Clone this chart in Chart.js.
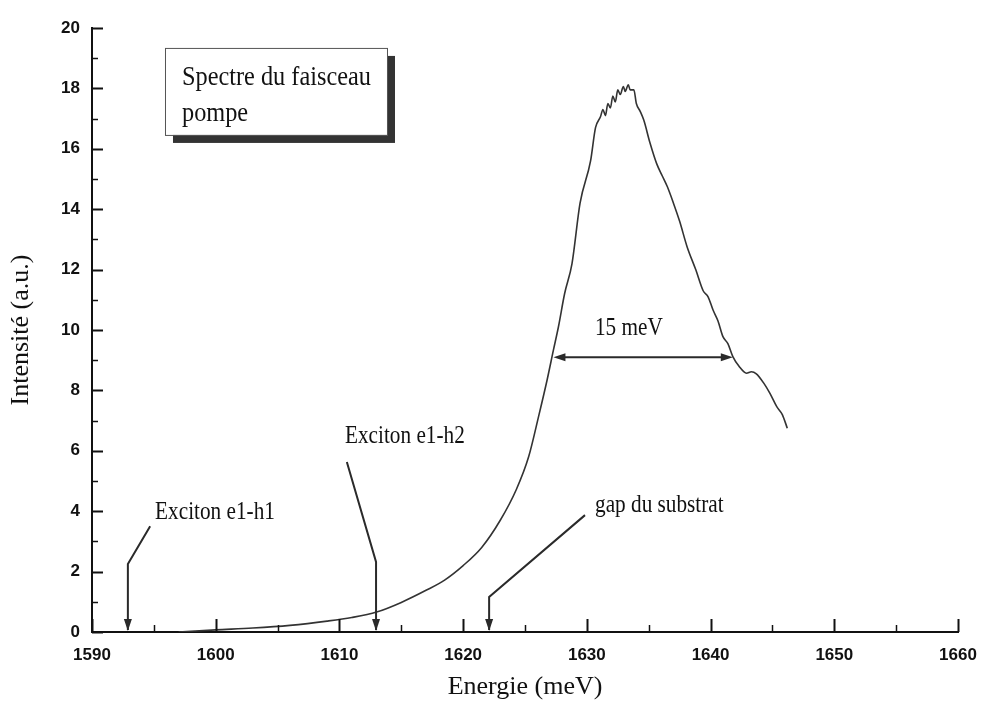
<!DOCTYPE html>
<html>
<head>
<meta charset="utf-8">
<script src="https://cdn.jsdelivr.net/npm/chart.js@4.4.1/dist/chart.umd.min.js"></script>
<style>
  html, body { margin: 0; padding: 0; background: #fff; }
  #wrap { width: 982px; height: 709px; }
</style>
</head>
<body>
<div id="wrap"><canvas id="spectre"></canvas></div>
<script>
// spectre du faisceau pompe
const energie = [1597, 1600, 1603, 1606, 1609, 1611, 1613, 1615, 1617, 1618.5, 1620, 1621.5, 1623, 1624.3, 1625.3, 1626.1, 1626.8, 1627.3, 1627.7, 1628.2, 1628.8, 1629.45, 1630.3, 1630.7, 1631.1, 1631.3, 1631.5, 1631.7, 1631.9, 1632.1, 1632.3, 1632.5, 1632.7, 1632.95, 1633.1, 1633.35, 1633.5, 1633.8, 1634.0, 1634.3, 1634.6, 1635.1, 1635.65, 1636.1, 1636.5, 1637.0, 1637.5, 1638.1, 1638.8, 1639.4, 1639.8, 1640.2, 1640.6, 1641.0, 1641.4, 1641.8, 1642.3, 1642.9, 1643.3, 1643.7, 1644.3, 1644.8, 1645.35, 1645.8, 1646.2];
const intensite = [0.0, 0.07, 0.13, 0.22, 0.36, 0.48, 0.66, 0.98, 1.38, 1.72, 2.2, 2.8, 3.7, 4.72, 5.81, 7.14, 8.37, 9.34, 10.1, 11.2, 12.2, 14.2, 15.6, 16.7, 17.06, 17.3, 17.1, 17.5, 17.35, 17.75, 17.55, 17.95, 17.8, 18.06, 17.9, 18.12, 17.95, 17.95, 17.5, 17.25, 16.95, 16.2, 15.5, 15.1, 14.75, 14.2, 13.6, 12.76, 12.0, 11.3, 11.1, 10.66, 10.3, 9.78, 9.55, 9.12, 8.8, 8.57, 8.62, 8.55, 8.24, 7.9, 7.46, 7.2, 6.75];
const ticksX = [1590, 1600, 1610, 1620, 1630, 1640, 1650, 1660];
const ticksY = [0, 2, 4, 6, 8, 10, 12, 14, 16, 18, 20];

// flèches et étiquettes (unités des axes)
const reperes = [
  { texte: 'Exciton e1-h1', e: 1592.9, coude: [1592.9, 2.25], bout: [1594.7, 3.5], lab: [1595.1, 3.97] },
  { texte: 'Exciton e1-h2', e: 1612.96, coude: [1612.96, 2.32], bout: [1610.6, 5.63], lab: [1610.45, 6.46] },
  { texte: 'gap du substrat', e: 1622.1, coude: [1622.1, 1.16], bout: [1629.85, 3.87], lab: [1630.66, 4.2] }
];
const largeur = { de: 1627.3, a: 1641.8, niveau: 9.1, texte: '15 meV', lab: [1633.4, 10.05] };
const titreBoite = ['Spectre du faisceau', 'pompe'];

const serif = '"Liberation Serif", "Times New Roman", serif';
const trait = '#2a2a2a';

function texteSerre(ctx, txt, x, y, taille, serre) {
  ctx.save();
  ctx.font = taille + 'px ' + serif;
  ctx.textBaseline = 'middle';
  ctx.textAlign = 'left';
  ctx.fillStyle = '#111';
  ctx.translate(x, y);
  ctx.scale(serre, 1);
  ctx.fillText(txt, 0, 0);
  ctx.restore();
}

function pointe(ctx, x, y, angle) {
  // petite pointe de flèche, sommet en (x, y)
  ctx.save();
  ctx.translate(x, y);
  ctx.rotate(angle);
  ctx.beginPath();
  ctx.moveTo(0, 0);
  ctx.lineTo(-12, -4);
  ctx.lineTo(-12, 4);
  ctx.closePath();
  ctx.fill();
  ctx.restore();
}

const decor = {
  id: 'decor',
  afterDraw(chart) {
    const ctx = chart.ctx;
    const sx = chart.scales.x, sy = chart.scales.y;
    const area = chart.chartArea;

    // graduations vers l'intérieur
    ctx.save();
    ctx.strokeStyle = '#111';
    for (let v = 1590; v <= 1660; v += 5) {
      const px = Math.round(sx.getPixelForValue(v)) + 0.5;
      const big = v % 10 === 0;
      ctx.lineWidth = big ? 2 : 1.5;
      ctx.beginPath();
      ctx.moveTo(px, area.bottom);
      ctx.lineTo(px, area.bottom - (big ? 13 : 7));
      ctx.stroke();
    }
    for (let v = 0; v <= 20; v += 1) {
      const py = Math.round(sy.getPixelForValue(v)) + 0.5;
      const big = v % 2 === 0;
      ctx.lineWidth = big ? 2 : 1.5;
      ctx.beginPath();
      ctx.moveTo(area.left, py);
      ctx.lineTo(area.left + (big ? 11 : 6), py);
      ctx.stroke();
    }
    ctx.restore();

    // flèches des repères
    ctx.save();
    ctx.strokeStyle = trait;
    ctx.fillStyle = trait;
    ctx.lineWidth = 2;
    reperes.forEach(r => {
      const x0 = sx.getPixelForValue(r.e);
      const y0 = sy.getPixelForValue(0);
      const xc = sx.getPixelForValue(r.coude[0]), yc = sy.getPixelForValue(r.coude[1]);
      const xb = sx.getPixelForValue(r.bout[0]), yb = sy.getPixelForValue(r.bout[1]);
      ctx.beginPath();
      ctx.moveTo(xb, yb);
      ctx.lineTo(xc, yc);
      ctx.lineTo(x0, y0 - 2);
      ctx.stroke();
      pointe(ctx, x0, y0 - 1, Math.PI / 2);
      texteSerre(ctx, r.texte, sx.getPixelForValue(r.lab[0]), sy.getPixelForValue(r.lab[1]), 25, 0.85);
    });

    // largeur à mi-hauteur
    const xa = sx.getPixelForValue(largeur.de), xb = sx.getPixelForValue(largeur.a);
    const yl = sy.getPixelForValue(largeur.niveau);
    ctx.lineWidth = 2;
    ctx.beginPath();
    ctx.moveTo(xa + 6, yl);
    ctx.lineTo(xb - 6, yl);
    ctx.stroke();
    pointe(ctx, xa, yl, Math.PI);
    pointe(ctx, xb, yl, 0);
    ctx.restore();
    const lab = largeur.lab;
    ctx.save();
    ctx.font = '25px ' + serif;
    const w = ctx.measureText(largeur.texte).width * 0.85;
    ctx.restore();
    texteSerre(ctx, largeur.texte, sx.getPixelForValue(lab[0]) - w / 2, sy.getPixelForValue(lab[1]), 25, 0.85);

    // encadré du titre avec ombre
    const bx = sx.getPixelForValue(1595.9), by = sy.getPixelForValue(19.34);
    const bw = 222, bh = 87;
    ctx.save();
    ctx.fillStyle = '#333';
    ctx.fillRect(bx + 8, by + 8, bw, bh);
    ctx.fillStyle = '#fff';
    ctx.fillRect(bx, by, bw, bh);
    ctx.strokeStyle = '#555';
    ctx.lineWidth = 1;
    ctx.strokeRect(bx + 0.5, by + 0.5, bw, bh);
    ctx.restore();
    texteSerre(ctx, titreBoite[0], bx + 17, by + 30, 27, 0.9);
    texteSerre(ctx, titreBoite[1], bx + 17, by + 66, 27, 0.9);
  }
};

new Chart(document.getElementById('spectre'), {
  type: 'line',
  data: {
    datasets: [{
      label: 'Spectre',
      data: energie.map((e, i) => ({ x: e, y: intensite[i] })),
      borderColor: '#333',
      borderWidth: 1.6,
      pointRadius: 0,
      cubicInterpolationMode: 'monotone',
      fill: false
    }]
  },
  options: {
    responsive: true,
    maintainAspectRatio: false,
    animation: false,
    layout: { padding: { top: 28, right: 24, left: 0, bottom: 0 } },
    plugins: { legend: { display: false }, tooltip: { enabled: false } },
    scales: {
      x: {
        type: 'linear',
        min: ticksX[0],
        max: ticksX[ticksX.length - 1],
        afterBuildTicks: s => { s.ticks = ticksX.map(v => ({ value: v })); },
        grid: { display: false, drawTicks: false },
        border: { display: true, color: '#111', width: 2 },
        ticks: {
          padding: 13,
          color: '#111',
          callback: v => String(v),
          font: { family: '"Liberation Sans", Arial, sans-serif', size: 17, weight: 'bold' }
        },
        title: {
          display: true,
          text: 'Energie (meV)',
          color: '#111',
          padding: { top: 0, bottom: 6 },
          font: { family: serif, size: 26 }
        },
        afterFit: s => { s.height = 77; s.paddingRight = 0; }
      },
      y: {
        min: ticksY[0],
        max: ticksY[ticksY.length - 1],
        afterBuildTicks: s => { s.ticks = ticksY.map(v => ({ value: v })); },
        grid: { display: false, drawTicks: false },
        border: { display: true, color: '#111', width: 2 },
        ticks: {
          padding: 12,
          color: '#111',
          callback: v => String(v),
          font: { family: '"Liberation Sans", Arial, sans-serif', size: 17, weight: 'bold' }
        },
        title: {
          display: true,
          text: 'Intensité (a.u.)',
          color: '#111',
          padding: { top: 6, bottom: 0 },
          font: { family: serif, size: 26 }
        },
        afterFit: s => { s.width = 92; }
      }
    }
  },
  plugins: [decor]
});
</script>
</body>
</html>
